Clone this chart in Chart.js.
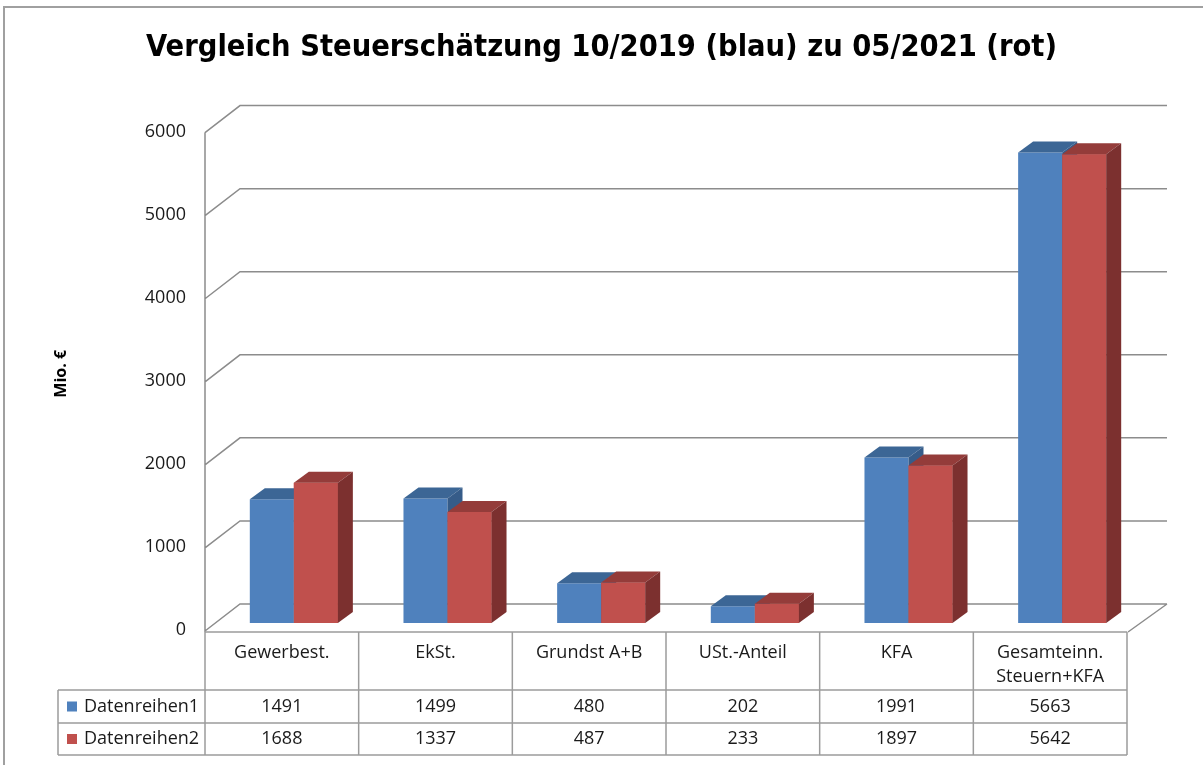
<!DOCTYPE html>
<html>
<head>
<meta charset="utf-8">
<script src="https://cdn.jsdelivr.net/npm/chart.js@4"></script>
<style>
  html, body { margin: 0; background: #fff; }
  #wrap { width: 1203px; height: 765px; position: relative; }
</style>
</head>
<body>
<div id="wrap"><canvas id="chart"></canvas></div>
<script>
const categories = ['Gewerbest.', 'EkSt.', 'Grundst A+B', 'USt.-Anteil', 'KFA', ['Gesamteinn.', 'Steuern+KFA']];
const seriesNames = ['Datenreihen1', 'Datenreihen2'];
const reihe1 = [1491, 1499, 480, 202, 1991, 5663];
const reihe2 = [1688, 1337, 487, 233, 1897, 5642];
const yTicks = [0, 1000, 2000, 3000, 4000, 5000, 6000];

const FRONT = ['#4f81bd', '#c0504d'];
const TOP = ['#3c6695', '#943c3a'];
const SIDE = ['#365c89', '#7c302f'];
const DX = 15, DY = -11;          // bar depth offsets
const GRID = '#8c8c8c';
const LINE = '#9c9c9c';
const FONT = '"Open Sans", "Liberation Sans", sans-serif';

// walls, floor, 3d bar faces and the data table under the plot
const excel3d = {
  id: 'excel3d',
  beforeDraw(chart) {
    const ctx = chart.ctx;
    ctx.save();
    ctx.strokeStyle = '#a0a0a0';
    ctx.lineWidth = 2;
    ctx.strokeRect(4, 7, 1400, 1000);
    ctx.restore();
  },
  beforeDatasetsDraw(chart) {
    const { ctx, scales: { x, y } } = chart;
    const fl = x.left - 12, bl = x.left + 23, br = x.right + 28, fr = x.right - 11;
    ctx.save();
    ctx.strokeStyle = GRID;
    ctx.lineWidth = 1.5;
    ctx.beginPath();
    for (const v of yTicks) {
      const py = y.getPixelForValue(v);
      ctx.moveTo(fl, py + 8);
      ctx.lineTo(bl, py - 19);
      ctx.lineTo(br, py - 19);
    }
    const top = y.getPixelForValue(yTicks[yTicks.length - 1]);
    const y0 = y.getPixelForValue(0);
    ctx.moveTo(fl, top + 8);
    ctx.lineTo(fl, y0 + 9);
    ctx.moveTo(br, y0 - 19);
    ctx.lineTo(fr, y0 + 9);
    ctx.stroke();
    ctx.restore();
  },
  afterDatasetsDraw(chart) {
    const ctx = chart.ctx;
    ctx.save();
    [0, 1].forEach(d => {
      chart.getDatasetMeta(d).data.forEach(el => {
        const { x, y, base, width } = el.getProps(['x', 'y', 'base', 'width'], true);
        const l = x - width / 2, r = x + width / 2;
        if (d === 1) {
          ctx.fillStyle = FRONT[d];
          ctx.fillRect(l, y, width, base - y);
        }
        ctx.fillStyle = TOP[d];
        ctx.beginPath();
        ctx.moveTo(l, y);
        ctx.lineTo(l + DX, y + DY);
        ctx.lineTo(r + DX, y + DY);
        ctx.lineTo(r, y);
        ctx.closePath();
        ctx.fill();
        ctx.fillStyle = SIDE[d];
        ctx.beginPath();
        ctx.moveTo(r, y);
        ctx.lineTo(r + DX, y + DY);
        ctx.lineTo(r + DX, base + DY);
        ctx.lineTo(r, base);
        ctx.closePath();
        ctx.fill();
      });
    });
    ctx.restore();
  },
  afterDraw(chart) {
    const { ctx, scales: { x, y } } = chart;
    const tl = x.left - 12;
    const cw = (x.right - x.left) / categories.length;
    const tr = tl + cw * categories.length;
    const t0 = y.getPixelForValue(0) + 9;
    const t1 = t0 + 58, t2 = t1 + 33, t3 = t2 + 32;
    const legL = 58;

    ctx.save();
    ctx.strokeStyle = LINE;
    ctx.lineWidth = 1.5;
    ctx.beginPath();
    ctx.moveTo(tl, t0); ctx.lineTo(tr, t0);
    for (const ly of [t1, t2, t3]) { ctx.moveTo(legL, ly); ctx.lineTo(tr, ly); }
    ctx.moveTo(legL, t1); ctx.lineTo(legL, t3);
    for (let i = 0; i <= categories.length; i++) {
      ctx.moveTo(tl + cw * i, t0);
      ctx.lineTo(tl + cw * i, t3);
    }
    ctx.stroke();

    ctx.fillStyle = '#1a1a1a';
    ctx.font = '18px ' + FONT;
    ctx.textAlign = 'center';
    ctx.textBaseline = 'middle';
    categories.forEach((c, i) => {
      const lines = Array.isArray(c) ? c : [c];
      lines.forEach((s, k) => ctx.fillText(s, tl + cw * (i + 0.5), t0 + 21 + k * 24));
    });
    [reihe1, reihe2].forEach((row, r) => {
      const cy = r === 0 ? (t1 + t2) / 2 : (t2 + t3) / 2;
      row.forEach((v, i) => ctx.fillText(String(v), tl + cw * (i + 0.5), cy));
      ctx.fillStyle = FRONT[r];
      ctx.fillRect(67, cy - 5, 10, 10);
      ctx.fillStyle = '#1a1a1a';
      ctx.textAlign = 'left';
      ctx.fillText(seriesNames[r], 84, cy);
      ctx.textAlign = 'center';
    });
    ctx.restore();
  }
};

new Chart(document.getElementById('chart'), {
  type: 'bar',
  data: {
    labels: categories,
    datasets: [
      { label: seriesNames[0], data: reihe1, backgroundColor: FRONT[0] },
      { label: seriesNames[1], data: reihe2, backgroundColor: FRONT[1] }
    ]
  },
  options: {
    responsive: true,
    maintainAspectRatio: false,
    animation: false,
    layout: { padding: { left: 0, right: 0, top: 0, bottom: 142 } },
    datasets: { bar: { categoryPercentage: 0.573, barPercentage: 1 } },
    plugins: {
      legend: { display: false },
      tooltip: { enabled: false },
      title: {
        display: true,
        text: 'Vergleich Steuerschätzung 10/2019 (blau) zu 05/2021 (rot)',
        color: '#000',
        font: { family: '"Liberation Sans Narrow", "DejaVu Sans Condensed", sans-serif', size: 30.5, weight: 'bold' },
        padding: { top: 30, bottom: 58 }
      }
    },
    scales: {
      x: { display: false },
      y: {
        min: 0,
        max: 6000,
        afterBuildTicks: s => { s.ticks = yTicks.map(v => ({ value: v })); },
        afterFit: s => { s.width = 217; },
        ticks: {
          padding: 31,
          labelOffset: 7,
          color: '#1a1a1a',
          font: { family: FONT, size: 18 },
          callback: v => String(v)
        },
        grid: { display: false, drawTicks: false },
        border: { display: false },
        title: {
          display: true,
          text: 'Mio. €',
          color: '#000',
          font: { family: FONT, size: 16, weight: 'bold' },
          padding: { top: 52, bottom: 0 }
        }
      },
      // empty right-hand axis, only reserves the space to the right of the floor
      yRight: {
        position: 'right',
        min: 0,
        max: 6000,
        afterFit: s => { s.width = 64; },
        ticks: { display: false },
        grid: { display: false, drawTicks: false },
        border: { display: false }
      }
    }
  },
  plugins: [excel3d]
});
</script>
</body>
</html>
